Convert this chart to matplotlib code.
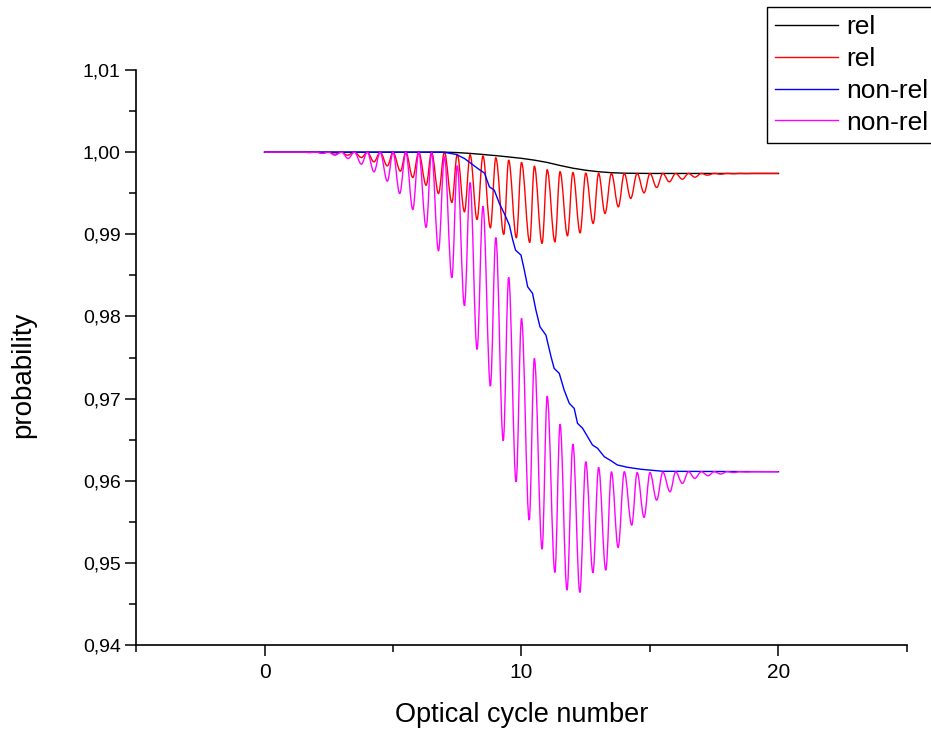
import matplotlib
matplotlib.use('Agg')
import matplotlib.pyplot as plt
from matplotlib.path import Path
from matplotlib.patches import PathPatch
from matplotlib.lines import Line2D
from matplotlib.ticker import MultipleLocator, FixedLocator, FuncFormatter

plt.rcParams['font.family'] = ['Liberation Sans', 'DejaVu Sans']

# rel, smooth curve
black_x = [0.0, 6.8, 7.0, 7.5, 8.0, 8.5, 9.0, 9.5, 10.0, 10.5, 11.0, 11.5,
           12.0, 12.5, 13.0, 13.5, 14.0, 15.0, 20.0]
black_y = [1.0, 1.0, 1.0, 0.99995, 0.99985, 0.99972, 0.99958, 0.99942, 0.99925,
           0.99903, 0.99875, 0.99838, 0.99805, 0.99780, 0.99762, 0.99750,
           0.99744, 0.99741, 0.99741]

# rel, oscillating curve (maxima / minima)
red_x = [0.0, 1.5, 1.75, 2.0, 2.25, 2.5, 2.73, 3.0, 3.22, 3.5, 3.77, 4.0, 4.26,
         4.5, 4.78, 5.0, 5.29, 5.5, 5.77, 6.0, 6.29, 6.5, 6.77, 7.0, 7.29, 7.5,
         7.78, 8.0, 8.27, 8.5, 8.79, 9.0, 9.31, 9.5, 9.80, 10.0, 10.32, 10.5,
         10.80, 11.0, 11.30, 11.5, 11.79, 12.0, 12.28, 12.5, 12.79, 13.0, 13.25,
         13.5, 13.77, 14.0, 14.25, 14.5, 14.77, 15.0, 15.26, 15.5, 15.75, 16.0,
         16.26, 16.5, 16.75, 17.0, 17.23, 17.5, 17.75, 18.0, 18.25, 18.5, 18.75,
         19.0, 20.0]
red_y = [1.0, 1.0, 0.99997, 1.0, 0.99990, 1.0, 0.99976, 1.0, 0.99963, 1.0,
         0.99935, 1.0, 0.99882, 1.0, 0.99833, 1.0, 0.99769, 1.0, 0.99692, 1.0,
         0.99598, 1.0, 0.99497, 1.0, 0.99388, 0.99972, 0.99274, 0.99970,
         0.99181, 0.99955, 0.99079, 0.99931, 0.98999, 0.99903, 0.98957,
         0.99875, 0.98901, 0.99830, 0.98889, 0.99785, 0.98909, 0.99762,
         0.98982, 0.99752, 0.99018, 0.99745, 0.99132, 0.99742, 0.99254,
         0.99741, 0.99335, 0.99741, 0.99437, 0.99741, 0.99505, 0.99741,
         0.99570, 0.99741, 0.99639, 0.99741, 0.99671, 0.99741, 0.99696,
         0.99741, 0.99720, 0.99741, 0.99732, 0.99741, 0.99737, 0.99741,
         0.99739, 0.99741, 0.99741]

# non-rel, smooth curve
blue_x = [0.0, 6.8, 7.0, 7.46, 7.78, 8.04, 8.30, 8.56, 8.75, 8.94, 9.14, 9.33,
          9.53, 9.66, 9.77, 9.98, 10.11, 10.24, 10.43, 10.56, 10.72, 10.95,
          11.15, 11.27, 11.47, 11.66, 11.86, 12.05, 12.18, 12.38, 12.57, 12.76,
          12.96, 13.22, 13.48, 13.73, 14.12, 14.64, 15.5, 20.0]
blue_y = [1.0, 1.0, 0.99998, 0.99972, 0.99923, 0.99862, 0.99801, 0.99745,
          0.99578, 0.99538, 0.99375, 0.99254, 0.99111, 0.98929, 0.98807,
          0.98747, 0.98564, 0.98361, 0.98281, 0.98078, 0.97874, 0.97773,
          0.97509, 0.97368, 0.97307, 0.97104, 0.96942, 0.96881, 0.96699,
          0.96638, 0.96537, 0.96436, 0.96395, 0.96293, 0.96244, 0.96192,
          0.96164, 0.96140, 0.96115, 0.96110]

# non-rel, oscillating curve
mag_x = [0.0, 1.5, 1.75, 2.0, 2.25, 2.5, 2.73, 3.0, 3.25, 3.5, 3.77, 4.0, 4.26,
         4.5, 4.78, 5.0, 5.26, 5.5, 5.77, 6.0, 6.29, 6.5, 6.77, 7.0, 7.29, 7.5,
         7.78, 8.0, 8.27, 8.5, 8.79, 9.0, 9.29, 9.5, 9.79, 10.0, 10.30, 10.5,
         10.80, 11.0, 11.30, 11.5, 11.77, 12.0, 12.27, 12.5, 12.78, 13.0, 13.28,
         13.5, 13.76, 14.0, 14.29, 14.5, 14.77, 15.0, 15.26, 15.5, 15.78, 16.0,
         16.26, 16.5, 16.74, 17.0, 17.26, 17.5, 17.75, 18.0, 18.26, 18.5, 18.75,
         19.0, 20.0]
mag_y = [1.0, 1.0, 0.99995, 1.0, 0.99985, 1.0, 0.99963, 1.0, 0.99923, 1.0,
         0.99854, 1.0, 0.99760, 1.0, 0.99647, 1.0, 0.99497, 1.0, 0.99302, 1.0,
         0.99084, 0.99995, 0.98799, 0.99945, 0.98471, 0.99835, 0.98130,
         0.99630, 0.97599, 0.99340, 0.97152, 0.98960, 0.96487, 0.98475,
         0.95987, 0.97976, 0.95521, 0.97489, 0.95168, 0.97030, 0.94884,
         0.96689, 0.94669, 0.96446, 0.94641, 0.96231, 0.94880, 0.96162,
         0.94912, 0.96109, 0.95188, 0.96109, 0.95460, 0.96100, 0.95554,
         0.96100, 0.95764, 0.96105, 0.95866, 0.96108, 0.95968, 0.96110,
         0.96029, 0.96110, 0.96061, 0.96110, 0.96082, 0.96110, 0.96100,
         0.96110, 0.96106, 0.96110, 0.96110]

labels = ['rel', 'rel', 'non-rel', 'non-rel']
colors = ['black', '#ff0000', '#0000ff', '#ff00ff']


def wave_path(xs, ys, k=0.36):
    # smooth bezier segments between successive extrema (flat tangents)
    verts = [(xs[0], ys[0])]
    codes = [Path.MOVETO]
    for i in range(1, len(xs)):
        x0, y0, x1, y1 = xs[i - 1], ys[i - 1], xs[i], ys[i]
        dx = x1 - x0
        verts += [(x0 + k * dx, y0), (x1 - k * dx, y1), (x1, y1)]
        codes += [Path.CURVE4] * 3
    return Path(verts, codes)


fig = plt.figure(figsize=(9.31, 7.31), dpi=100)
ax = fig.add_axes([0.1461, 0.1176, 0.8281, 0.7866])

lw = 1.0
ax.plot(black_x, black_y, color=colors[0], lw=lw, zorder=2)
ax.add_patch(PathPatch(wave_path(red_x, red_y), fill=False,
                       edgecolor=colors[1], lw=lw, zorder=2))
ax.plot(blue_x, blue_y, color=colors[2], lw=lw, zorder=2)
ax.add_patch(PathPatch(wave_path(mag_x, mag_y), fill=False,
                       edgecolor=colors[3], lw=lw, zorder=2))

ax.set_xlim(-5, 25)
ax.set_ylim(0.94, 1.01)

for side in ['top', 'right']:
    ax.spines[side].set_visible(False)
for side in ['left', 'bottom']:
    ax.spines[side].set_linewidth(1.2)

ax.xaxis.set_major_locator(FixedLocator([0, 10, 20]))
ax.xaxis.set_minor_locator(FixedLocator([-5, 5, 15, 25]))
ax.yaxis.set_major_locator(MultipleLocator(0.01))
ax.yaxis.set_minor_locator(FixedLocator([0.945, 0.955, 0.965, 0.975, 0.985, 0.995, 1.005]))
ax.yaxis.set_major_formatter(FuncFormatter(lambda v, p: f'{v:.2f}'.replace('.', ',')))

ax.tick_params(which='major', direction='out', length=8, width=1.1)
ax.tick_params(which='minor', direction='out', length=5, width=1.1)
ax.tick_params(axis='x', which='major', labelsize=15, pad=5)
ax.tick_params(axis='y', which='major', labelsize=14, pad=3)

ax.set_xlabel('Optical cycle number', fontsize=19.5, labelpad=14)
ax.set_ylabel('probability', fontsize=20)
ax.yaxis.set_label_coords(-0.13, 0.47)

handles = [Line2D([], [], color=c, lw=lw) for c in colors]
leg = ax.legend(handles, labels, loc='upper left',
                bbox_to_anchor=(767 / 931, 1 - 7 / 731),
                bbox_transform=fig.transFigure, frameon=True, fancybox=False,
                edgecolor='black', fontsize=19, handlelength=2.4,
                handletextpad=0.3, borderpad=0.3, labelspacing=0.3,
                borderaxespad=0)
leg.get_frame().set_linewidth(1.0)
leg.get_frame().set_alpha(1)

fig.savefig('out.png', dpi=100)
